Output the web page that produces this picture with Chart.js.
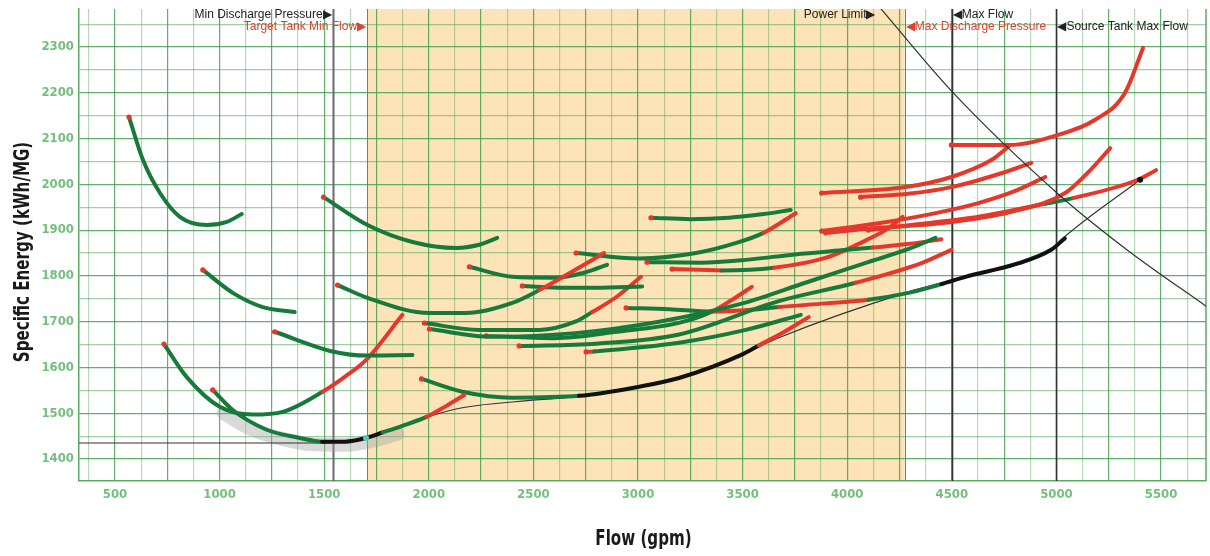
<!DOCTYPE html>
<html>
<head>
<meta charset="utf-8">
<script src="https://cdn.jsdelivr.net/npm/chart.js@4/dist/chart.umd.min.js"></script>
<style>
  html, body { margin: 0; padding: 0; background: #fff; }
</style>
</head>
<body>
<canvas id="chart" width="1210" height="556"></canvas>
<script>
// axis labels
const flowTicks = [500, 1000, 1500, 2000, 2500, 3000, 3500, 4000, 4500, 5000, 5500];
const energyTicks = [1400, 1500, 1600, 1700, 1800, 1900, 2000, 2100, 2200, 2300];
const flowRange = [328, 5715];
const energyRange = [1352, 2383];
const flowTitle = 'Flow (gpm)';
const energyTitle = 'Specific Energy (kWh/MG)';

// operating limits (gpm)
const minDischargePressure = 1540;
const targetTankMinFlow = 1705;
const maxDischargePressure = 4275;
const maxFlow = 4500;
const sourceTankMaxFlow = 5000;

// pump curves: flow (gpm), specific energy (kWh/MG), state of each segment
// g = feasible, r = violates a limit, k = optimal
const curveA = { flow: [567, 634, 715, 810, 939, 1034, 1106], energy: [2147, 2053, 1981, 1929, 1911, 1918, 1935], state: 'gggggg' };
const curveB = { flow: [1497, 1707, 1922, 2132, 2241, 2327], energy: [1972, 1911, 1874, 1861, 1868, 1883], state: 'ggggg' };
const curveC = { flow: [920, 1063, 1206, 1359], energy: [1813, 1763, 1732, 1721], state: 'ggg' };
const curveD = { flow: [1263, 1540, 1702, 1922], energy: [1678, 1635, 1626, 1627], state: 'ggg' };
const curveE = { flow: [734, 843, 1001, 1158, 1302, 1492, 1600, 1702, 1874], energy: [1651, 1579, 1514, 1497, 1503, 1547, 1580, 1617, 1715], state: 'gggggrrr' };
const curveF = { flow: [967, 1063, 1225, 1383, 1490, 1600, 1700, 1779, 1870, 1989, 2080, 2170], energy: [1551, 1507, 1464, 1446, 1438, 1438, 1446, 1458, 1472, 1492, 1515, 1540], state: 'ggggkkkggrr' };
const curveG = { flow: [1965, 2160, 2399, 2718, 3005, 3196, 3496, 3577, 3700, 3816], energy: [1575, 1547, 1534, 1538, 1558, 1577, 1628, 1648, 1678, 1710], state: 'gggkkkkrr' };
const curveH = { flow: [1564, 1707, 2003, 2179, 2399, 2528, 2680, 2838], energy: [1780, 1752, 1719, 1719, 1741, 1769, 1808, 1850], state: 'gggggrr' };
const curveI = { flow: [2194, 2399, 2600, 2750, 2852], energy: [1820, 1798, 1796, 1808, 1824], state: 'gggg' };
const curveJ = { flow: [2704, 3005, 3277, 3470, 3600, 3754], energy: [1850, 1838, 1850, 1872, 1894, 1937], state: 'ggggr' };
const curveK = { flow: [3062, 3250, 3434, 3600, 3730], energy: [1927, 1924, 1927, 1935, 1944], state: 'gggg' };
const curveM = { flow: [2447, 2650, 2800, 3020], energy: [1778, 1774, 1774, 1777], state: 'ggg' };
const curveN1 = { flow: [1979, 2241, 2528, 2700, 2781, 2900, 3014], energy: [1697, 1682, 1682, 1700, 1721, 1755, 1798], state: 'ggggrr' };
const curveN2 = { flow: [2003, 2300, 2700, 3100, 3500, 3800, 4100, 4300, 4422], energy: [1684, 1667, 1675, 1700, 1740, 1785, 1830, 1860, 1883], state: 'gggggggg' };
const curveN3 = { flow: [2275, 2600, 2900, 3200, 3353, 3450, 3544], energy: [1669, 1664, 1678, 1698, 1722, 1748, 1776], state: 'ggggrr' };
const curveN4 = { flow: [2432, 2800, 3196, 3673, 4040, 4355, 4498], energy: [1647, 1652, 1672, 1745, 1785, 1828, 1857], state: 'ggggrr' };
const curveS = { flow: [2752, 2790, 3196, 3515, 3778], energy: [1634, 1635, 1654, 1682, 1715], state: 'rggg' };
const curveT = { flow: [2943, 3150, 3353, 3544, 3673, 3897, 4100, 4293, 4450, 4565, 4800, 4975, 5040], energy: [1730, 1727, 1722, 1726, 1732, 1740, 1748, 1763, 1782, 1798, 1825, 1857, 1882], state: 'ggrgrrggkkkk' };
const curveP = { flow: [3043, 3300, 3515, 3750, 4000, 4122, 4300, 4450], energy: [1830, 1829, 1835, 1847, 1857, 1862, 1870, 1880], state: 'gggggrr' };
const curveQ = { flow: [3163, 3400, 3650, 3900, 4100, 4200, 4265], energy: [1815, 1812, 1818, 1840, 1880, 1905, 1929], state: 'rgrrrr' };
const curveR1 = { flow: [4498, 4770, 5009, 5185, 5328, 5414], energy: [2086, 2086, 2108, 2141, 2200, 2298], state: 'rrrrr' };
const curveR2 = { flow: [3878, 4279, 4498, 4689, 4770], energy: [1981, 1994, 2016, 2053, 2082], state: 'rrrr' };
const curveR3 = { flow: [4064, 4300, 4498, 4756, 4880], energy: [1972, 1980, 1994, 2027, 2047], state: 'rrrr' };
const curveR4 = { flow: [3878, 4150, 4400, 4627, 4800, 4947], energy: [1898, 1915, 1935, 1959, 1985, 2016], state: 'rrrrr' };
const curveR5 = { flow: [3897, 4150, 4470, 4785, 5042, 5160, 5257], energy: [1894, 1905, 1916, 1940, 1981, 2030, 2079], state: 'rrrrrr' };
const curveR6 = { flow: [4100, 4307, 4627, 4950, 5080, 5390, 5476], energy: [1900, 1911, 1929, 1958, 1970, 2010, 2031], state: 'rrrgrr' };

// best-efficiency envelope and power limit
const envelopeFlow = [328, 1480, 1560, 1700, 1780, 1979, 2160, 2513, 2718, 3005, 3196, 3496, 3673, 4279, 4565, 4975, 5023, 5400];
const envelopeEnergy = [1435, 1435, 1437, 1446, 1458, 1490, 1512, 1529, 1537, 1558, 1577, 1628, 1665, 1763, 1798, 1857, 1879, 2010];
const powerLimitFlow = [4140, 4498, 5008, 5343, 5724];
const powerLimitEnergy = [2395, 2204, 1979, 1855, 1731];
const shadowFlow = [1020, 1150, 1300, 1450, 1600, 1720, 1850];
const shadowEnergy = [1500, 1466, 1444, 1432, 1431, 1439, 1455];
const minFlowPoint = [1700, 1446];
const envelopeEnd = [5400, 2010];

const curves = [curveA, curveB, curveC, curveD, curveE, curveF, curveG, curveH, curveI, curveJ, curveK, curveM,
  curveN1, curveN2, curveN3, curveN4, curveS, curveT, curveP, curveQ, curveR1, curveR2, curveR3, curveR4, curveR5, curveR6];

const stateColor = { g: '#177a3a', r: '#e5372b', k: '#111111' };
const FONT = "'DejaVu Sans Condensed', 'DejaVu Sans', sans-serif";

const toPts = (xs, ys) => xs.map((v, i) => ({ x: v, y: ys[i] }));

const datasets = [];
datasets.push({
  data: toPts(shadowFlow, shadowEnergy), borderColor: 'rgba(160,160,160,0.4)', borderWidth: 14,
  pointRadius: 0, cubicInterpolationMode: 'monotone', borderCapStyle: 'round', order: 20
});
datasets.push({
  data: toPts(envelopeFlow, envelopeEnergy), borderColor: '#333', borderWidth: 1.2,
  pointRadius: 0, cubicInterpolationMode: 'monotone', order: 15
});
curves.forEach(c => {
  datasets.push({
    data: toPts(c.flow, c.energy),
    borderColor: stateColor.g,
    borderWidth: 4,
    borderCapStyle: 'round',
    cubicInterpolationMode: 'monotone',
    segment: { borderColor: s => stateColor[c.state[s.p0DataIndex]] },
    pointRadius: ctx => ctx.dataIndex === 0 ? 2.6 : 0,
    pointBackgroundColor: '#e5372b',
    pointBorderWidth: 0,
    order: 10
  });
});
datasets.push({
  data: toPts(powerLimitFlow, powerLimitEnergy), borderColor: '#333', borderWidth: 1.2,
  pointRadius: 0, cubicInterpolationMode: 'monotone', order: 2
});
datasets.push({
  data: [{ x: minFlowPoint[0], y: minFlowPoint[1] }, { x: envelopeEnd[0], y: envelopeEnd[1] }],
  showLine: false, pointRadius: 3, pointBorderWidth: 0,
  pointBackgroundColor: ['#4cc9c4', '#111'], order: 1
});

const limitsPlugin = {
  id: 'limits',
  beforeDraw(chart) {
    const { ctx, chartArea: a, scales: { x } } = chart;
    const l = x.getPixelForValue(targetTankMinFlow);
    const r = x.getPixelForValue(maxDischargePressure);
    ctx.save();
    ctx.fillStyle = '#fce4b8';
    ctx.fillRect(l, a.top, r - l, a.bottom - a.top);
    ctx.restore();
  },
  beforeDatasetsDraw(chart) {
    const { ctx, chartArea: a, scales: { x } } = chart;
    const vline = (v, color, w) => {
      const p = Math.round(x.getPixelForValue(v)) + 0.5;
      ctx.strokeStyle = color; ctx.lineWidth = w;
      ctx.beginPath(); ctx.moveTo(p, a.top); ctx.lineTo(p, a.bottom); ctx.stroke();
    };
    ctx.save();
    vline(minDischargePressure, '#6b6b6b', 2);
    vline(targetTankMinFlow, '#e0533c', 1);
    vline(maxDischargePressure, '#e0533c', 1);
    vline(maxFlow, '#333', 1.6);
    vline(sourceTankMaxFlow, '#333', 1.6);
    // right border
    ctx.strokeStyle = '#5aaa62'; ctx.lineWidth = 1.5;
    ctx.beginPath(); ctx.moveTo(a.right, a.top); ctx.lineTo(a.right, a.bottom); ctx.stroke();
    ctx.restore();
  },
  afterDatasetsDraw(chart) {
    const { ctx, chartArea: a, scales: { x } } = chart;
    const row1 = a.top + 6, row2 = a.top + 18;
    ctx.save();
    ctx.font = "12px 'Liberation Sans', Arial, sans-serif";
    ctx.textBaseline = 'middle';
    const label = (text, v, y, color, align) => {
      ctx.fillStyle = color; ctx.textAlign = align;
      ctx.fillText(text, x.getPixelForValue(v) + (align === 'right' ? -1 : 1), y);
    };
    label('Min Discharge Pressure\u25B6', minDischargePressure, row1, '#222', 'right');
    label('Target Tank Min Flow\u25B6', targetTankMinFlow, row2, '#e0402f', 'right');
    label('Power Limit\u25B6', powerLimitFlow[0], row1, '#222', 'right');
    label('\u25C0Max Discharge Pressure', maxDischargePressure, row2, '#e0402f', 'left');
    label('\u25C0Max Flow', maxFlow, row1, '#222', 'left');
    label('\u25C0Source Tank Max Flow', sourceTankMaxFlow, row2, '#222', 'left');
    ctx.restore();
  },
  afterDraw(chart) {
    // condensed axis titles
    const { ctx, chartArea: a } = chart;
    ctx.save();
    ctx.font = 'bold 21px ' + FONT;
    ctx.fillStyle = '#1a1a1a';
    ctx.textAlign = 'center';
    ctx.textBaseline = 'middle';
    ctx.save();
    ctx.translate((a.left + a.right) / 2 + 1, 540);
    ctx.scale(0.8, 1);
    ctx.fillText(flowTitle, 0, 0);
    ctx.restore();
    ctx.save();
    ctx.translate(24, (a.top + a.bottom) / 2 + 7);
    ctx.rotate(-Math.PI / 2);
    ctx.scale(0.8, 1);
    ctx.fillText(energyTitle, 0, 0);
    ctx.restore();
    ctx.restore();
  }
};

new Chart(document.getElementById('chart'), {
  type: 'line',
  data: { datasets },
  options: {
    responsive: false,
    animation: false,
    layout: { padding: { top: 9, right: 1, left: 0, bottom: 0 } },
    plugins: { legend: { display: false }, tooltip: { enabled: false } },
    scales: {
      x: {
        type: 'linear',
        min: flowRange[0],
        max: flowRange[1],
        afterBuildTicks: s => {
          const t = [];
          for (let v = 375; v < flowRange[1]; v += 125) t.push({ value: v });
          s.ticks = t;
        },
        afterFit: s => { s.height = 75; s.paddingLeft = 0; s.paddingRight = 0; },
        grid: {
          drawTicks: false,
          color: c => c.tick && c.tick.value % 250 === 0 ? 'rgba(70,160,80,0.85)' : 'rgba(70,160,80,0.4)',
          lineWidth: 1.2
        },
        border: { color: '#5aaa62', width: 1.5 },
        ticks: {
          autoSkip: false, maxRotation: 0, padding: 6,
          color: '#74bf7e',
          font: { family: FONT, size: 13, weight: 'bold' },
          callback: v => flowTicks.includes(v) ? String(v) : ''
        }
      },
      y: {
        type: 'linear',
        min: energyRange[0],
        max: energyRange[1],
        afterBuildTicks: s => {
          const t = [];
          for (let v = 1400; v < energyRange[1]; v += 50) t.push({ value: v });
          s.ticks = t;
        },
        afterFit: s => { s.width = 79; s.paddingTop = 0; s.paddingBottom = 0; },
        grid: {
          drawTicks: false,
          color: c => c.tick && c.tick.value % 100 === 0 ? 'rgba(70,160,80,0.85)' : 'rgba(70,160,80,0.5)',
          lineWidth: 1.2
        },
        border: { color: '#5aaa62', width: 1.5 },
        ticks: {
          autoSkip: false, padding: 5,
          color: '#74bf7e',
          font: { family: FONT, size: 13, weight: 'bold' },
          callback: v => energyTicks.includes(v) ? String(v) : ''
        }
      }
    }
  },
  plugins: [limitsPlugin]
});
</script>
</body>
</html>
